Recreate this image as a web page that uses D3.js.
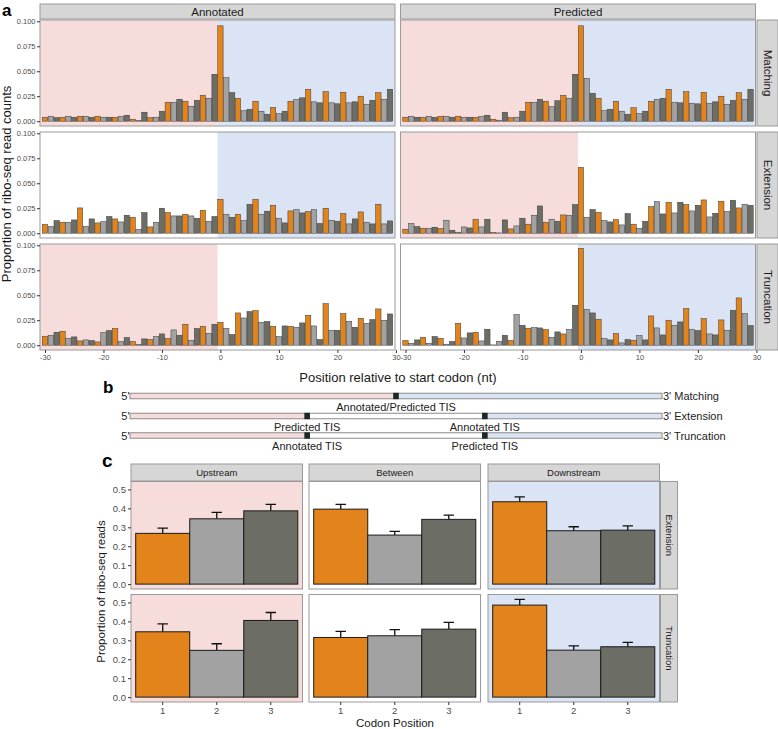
<!DOCTYPE html>
<html>
<head>
<meta charset="utf-8">
<script src="https://cdn.jsdelivr.net/npm/d3@7"></script>
<style>
  body { margin: 0; background: #fff; }
  svg { display: block; }
  text { font-family: "Liberation Sans", Arial, sans-serif; }
</style>
</head>
<body>
<div id="chart"></div>
<script>
// ---- panel a data: proportion of reads at each position (-30..29) ----
const positions = d3.range(-30, 30);
const colLabels = ["Annotated", "Predicted"];
const rowLabels = ["Matching", "Extension", "Truncation"];
const xTicksA = [-30, -20, -10, 0, 10, 20, 30];
const yTicksA = [0, 0.025, 0.05, 0.075, 0.1];

const matchingAnnotated = [
  0.004, 0.005, 0.0036, 0.004, 0.005, 0.004, 0.005, 0.005, 0.004, 0.005,
  0.004, 0.004, 0.004, 0.005, 0.006, 0.002, 0.0007, 0.009, 0.0035, 0.004,
  0.010, 0.019, 0.019, 0.022, 0.020, 0.015, 0.021, 0.026, 0.023, 0.047,
  0.0955, 0.0435, 0.0286, 0.023, 0.0105, 0.012, 0.020, 0.010, 0.007, 0.0138,
  0.0075, 0.010, 0.020, 0.0217, 0.0234, 0.032, 0.0194, 0.0184, 0.0296, 0.0184,
  0.0174, 0.029, 0.0184, 0.0194, 0.025, 0.017, 0.021, 0.0286, 0.022, 0.032
];
const matchingPredicted = [
  0.004, 0.005, 0.004, 0.004, 0.005, 0.004, 0.005, 0.005, 0.004, 0.005,
  0.004, 0.004, 0.004, 0.005, 0.006, 0.002, 0.001, 0.009, 0.0035, 0.004,
  0.010, 0.019, 0.019, 0.022, 0.020, 0.0145, 0.0205, 0.026, 0.023, 0.047,
  0.0955, 0.043, 0.028, 0.023, 0.0105, 0.012, 0.020, 0.010, 0.007, 0.0135,
  0.0075, 0.010, 0.020, 0.022, 0.023, 0.032, 0.019, 0.0184, 0.0296, 0.018,
  0.0174, 0.029, 0.018, 0.0194, 0.025, 0.017, 0.021, 0.0286, 0.022, 0.032
];
const extensionAnnotated = [
  0.009, 0.0067, 0.0127, 0.011, 0.011, 0.0133, 0.0253, 0.007, 0.0143, 0.0103,
  0.0117, 0.0167, 0.0143, 0.0113, 0.018, 0.016, 0.004, 0.0207, 0.0063, 0.011,
  0.025, 0.0207, 0.0173, 0.0173, 0.019, 0.0173, 0.015, 0.023, 0.012, 0.0167,
  0.034, 0.019, 0.016, 0.019, 0.0127, 0.029, 0.034, 0.019, 0.022, 0.028,
  0.015, 0.0103, 0.0223, 0.0237, 0.0203, 0.0217, 0.0237, 0.0097, 0.025, 0.013,
  0.012, 0.0197, 0.0093, 0.0143, 0.0213, 0.011, 0.0093, 0.029, 0.0093, 0.0123
];
const extensionPredicted = [
  0.004, 0.0097, 0.0067, 0.005, 0.005, 0.006, 0.0047, 0.013, 0.003, 0.001,
  0.0063, 0.0053, 0.014, 0.0063, 0.014, 0.0007, 0.0003, 0.0133, 0.0043, 0.0073,
  0.015, 0.009, 0.018, 0.0273, 0.011, 0.014, 0.012, 0.0183, 0.018, 0.0287,
  0.066, 0.016, 0.0237, 0.021, 0.0127, 0.0113, 0.0137, 0.0083, 0.0197, 0.009,
  0.005, 0.012, 0.0267, 0.0317, 0.0193, 0.031, 0.0203, 0.031, 0.0287, 0.0223,
  0.028, 0.0333, 0.0163, 0.020, 0.032, 0.0217, 0.033, 0.0253, 0.029, 0.028
];
const truncationAnnotated = [
  0.009, 0.010, 0.013, 0.014, 0.007, 0.0083, 0.0043, 0.0053, 0.0047, 0.0033,
  0.0127, 0.0147, 0.0167, 0.0037, 0.0077, 0.0037, 0.0007, 0.0063, 0.0057, 0.0087,
  0.0113, 0.0067, 0.0153, 0.010, 0.021, 0.005, 0.0167, 0.019, 0.012, 0.021,
  0.023, 0.017, 0.0107, 0.0323, 0.0273, 0.0337, 0.0347, 0.023, 0.0237, 0.019,
  0.0087, 0.0193, 0.019, 0.018, 0.0223, 0.030, 0.0193, 0.0057, 0.0417, 0.015,
  0.015, 0.0317, 0.024, 0.018, 0.027, 0.022, 0.0257, 0.0363, 0.025, 0.0313
];
const truncationPredicted = [
  0.0047, 0.002, 0.0053, 0.008, 0.002, 0.0087, 0.007, 0.001, 0.0037, 0.022,
  0.0073, 0.0123, 0.013, 0.0043, 0.016, 0.0003, 0.004, 0.010, 0.0047, 0.0307,
  0.020, 0.017, 0.0177, 0.0173, 0.0157, 0.008, 0.0133, 0.0113, 0.016, 0.040,
  0.097, 0.036, 0.0323, 0.026, 0.0067, 0.0053, 0.0117, 0.0023, 0.0057, 0.005,
  0.0097, 0.0053, 0.0293, 0.0173, 0.0103, 0.025, 0.020, 0.0233, 0.0367, 0.016,
  0.0147, 0.0267, 0.0113, 0.0103, 0.0253, 0.015, 0.035, 0.0473, 0.0317, 0.0197
];
// which panels get the upstream (pink) / downstream (blue) shading [row][col]
const upShade = [[true, true], [false, true], [true, false]];
const downShade = [[true, true], [true, false], [false, true]];

// ---- panel b: schematic, TIS at relative positions along the gene ----
const schemeRows = ["Matching", "Extension", "Truncation"];
const schemeTIS = [[0.5], [0.333, 0.667], [0.333, 0.667]];
const schemeTISLabels = [["Annotated/Predicted TIS"], ["Predicted TIS", "Annotated TIS"], ["Annotated TIS", "Predicted TIS"]];

// ---- panel c: mean proportion of reads by codon position ----
const regionLabels = ["Upstream", "Between", "Downstream"];
const codonPositions = ["1", "2", "3"];
const cRowLabels = ["Extension", "Truncation"];
const extensionMeans = [[0.268, 0.345, 0.387], [0.396, 0.259, 0.342], [0.435, 0.282, 0.285]];
const extensionUpper = [[0.296, 0.379, 0.421], [0.421, 0.279, 0.364], [0.461, 0.303, 0.308]];
const truncationMeans = [[0.345, 0.247, 0.405], [0.315, 0.324, 0.359], [0.486, 0.248, 0.266]];
const truncationUpper = [[0.387, 0.282, 0.447], [0.347, 0.356, 0.395], [0.516, 0.271, 0.289]];
const yTicksC = [0, 0.1, 0.2, 0.3, 0.4, 0.5];

const frameColors = ["#E2841B", "#A2A2A2", "#6C6D65"];
const pink = "#F7DCDC", blue = "#DAE4F4";
const stripFill = "#D6D6D6", borderCol = "#9a9a9a";

const svg = d3.select("#chart").append("svg")
  .attr("width", 778).attr("height", 729);

function styleAxis(g, size, col) {
  g.select(".domain").remove();
  g.selectAll(".tick line").attr("stroke", "#333");
  g.selectAll(".tick text").attr("fill", col).attr("font-size", size)
    .attr("font-family", "Liberation Sans, Arial, sans-serif");
}

// ================= panel a =================
const aColX = [40, 400.5], aW = 355, aRowY = [20, 132, 244], aH = 106;
const aData = [
  [matchingAnnotated, matchingPredicted],
  [extensionAnnotated, extensionPredicted],
  [truncationAnnotated, truncationPredicted]
];

rowLabels.forEach((rl, r) => {
  colLabels.forEach((cl, c) => {
    const x = d3.scaleLinear().domain([-30.85, 29.85]).range([aColX[c], aColX[c] + aW]);
    const y = d3.scaleLinear().domain([-0.0048, 0.1013]).range([aRowY[r] + aH, aRowY[r]]);
    const g = svg.append("g");

    g.append("rect").attr("x", aColX[c]).attr("y", aRowY[r])
      .attr("width", aW).attr("height", aH).attr("fill", "#fff");
    if (upShade[r][c]) {
      g.append("rect").attr("x", x(-30.85)).attr("y", aRowY[r])
        .attr("width", x(-0.5) - x(-30.85)).attr("height", aH).attr("fill", pink);
    }
    if (downShade[r][c]) {
      g.append("rect").attr("x", x(-0.5)).attr("y", aRowY[r])
        .attr("width", x(29.85) - x(-0.5)).attr("height", aH).attr("fill", blue);
    }

    g.selectAll(".bar").data(aData[r][c]).join("rect")
      .attr("class", "bar")
      .attr("x", (d, i) => x(positions[i] - 0.46))
      .attr("width", x(0.46) - x(-0.46))
      .attr("y", d => y(d))
      .attr("height", d => y(0) - y(d))
      .attr("fill", (d, i) => frameColors[((positions[i] % 3) + 3) % 3])
      .attr("stroke", "#3a3a3a").attr("stroke-width", 0.5);

    g.append("rect").attr("x", aColX[c]).attr("y", aRowY[r])
      .attr("width", aW).attr("height", aH)
      .attr("fill", "none").attr("stroke", borderCol).attr("stroke-width", 1);

    if (c === 0) {
      const ya = g.append("g").attr("transform", `translate(${aColX[c]},0)`)
        .call(d3.axisLeft(y).tickValues(yTicksA).tickFormat(d3.format(".3f")).tickSize(3).tickPadding(1.5));
      styleAxis(ya, 7.5, "#4d4d4d");
    }
    if (r === 2) {
      const xa = g.append("g").attr("transform", `translate(0,${aRowY[r] + aH})`)
        .call(d3.axisBottom(x).tickValues(xTicksA).tickFormat(d => String(d)).tickSize(3).tickPadding(2));
      styleAxis(xa, 7.5, "#4d4d4d");
    }
    if (r === 0) {
      g.append("rect").attr("x", aColX[c]).attr("y", 4).attr("width", aW).attr("height", 15)
        .attr("fill", stripFill).attr("stroke", borderCol).attr("stroke-width", 1);
      g.append("text").attr("x", aColX[c] + aW / 2).attr("y", 15.5)
        .attr("text-anchor", "middle").attr("font-size", 11.5).attr("fill", "#1a1a1a").text(cl);
    }
    if (c === 1) {
      g.append("rect").attr("x", 757).attr("y", aRowY[r]).attr("width", 21).attr("height", aH)
        .attr("fill", stripFill).attr("stroke", borderCol).attr("stroke-width", 1);
      g.append("text").attr("transform", `translate(763.5,${aRowY[r] + aH / 2}) rotate(90)`)
        .attr("text-anchor", "middle").attr("font-size", 11.5).attr("fill", "#1a1a1a").text(rl);
    }
  });
});

svg.append("text").attr("transform", "translate(10.5,184) rotate(-90)")
  .attr("text-anchor", "middle").attr("font-size", 13).attr("fill", "#1a1a1a")
  .text("Proportion of ribo-seq read counts");
svg.append("text").attr("x", 398).attr("y", 382)
  .attr("text-anchor", "middle").attr("font-size", 13).attr("fill", "#1a1a1a")
  .text("Position relative to start codon (nt)");
svg.append("text").attr("x", 2).attr("y", 16).attr("font-size", 17)
  .attr("font-weight", "bold").text("a");

// ================= panel b =================
const bx = d3.scaleLinear().domain([0, 1]).range([130, 662]);
const bRowY = [396, 416, 435.5], bH = 5.5;

schemeRows.forEach((name, r) => {
  const g = svg.append("g");
  const tis = schemeTIS[r];
  const cy = bRowY[r];
  const segs = [{ a: 0, b: tis[0], f: pink }];
  if (tis.length > 1) segs.push({ a: tis[0], b: tis[tis.length - 1], f: "#fff" });
  segs.push({ a: tis[tis.length - 1], b: 1, f: blue });

  g.selectAll(".seg").data(segs).join("rect")
    .attr("x", d => bx(d.a)).attr("width", d => bx(d.b) - bx(d.a))
    .attr("y", cy - bH / 2).attr("height", bH)
    .attr("fill", d => d.f);
  g.append("rect").attr("x", bx(0)).attr("width", bx(1) - bx(0))
    .attr("y", cy - bH / 2).attr("height", bH)
    .attr("fill", "none").attr("stroke", "#8c8c8c").attr("stroke-width", 1);

  g.selectAll(".tis").data(tis).join("rect")
    .attr("x", d => bx(d) - 2.8).attr("width", 5.6)
    .attr("y", cy - 3.2).attr("height", 6.4).attr("fill", "#1c2626");

  g.selectAll(".tisl").data(tis).join("text")
    .attr("x", d => bx(d)).attr("y", cy + 14.5)
    .attr("text-anchor", "middle").attr("font-size", 11).attr("fill", "#222")
    .text((d, i) => schemeTISLabels[r][i]);

  g.append("text").attr("x", bx(0) - 0.5).attr("y", cy + 4)
    .attr("text-anchor", "end").attr("font-size", 11).attr("fill", "#222").text("5'");
  g.append("text").attr("x", bx(1) + 1).attr("y", cy + 4)
    .attr("font-size", 11).attr("fill", "#222").text("3' " + name);
});
svg.append("text").attr("x", 103).attr("y", 393).attr("font-size", 17)
  .attr("font-weight", "bold").text("b");

// ================= panel c =================
const cColX = [131, 309, 488], cW = 171.5, cRowY = [481.5, 594.5], cH = 107.5;
const cMeans = [extensionMeans, truncationMeans];
const cUpper = [extensionUpper, truncationUpper];
const cShade = [pink, "#fff", blue];

cRowLabels.forEach((rl, r) => {
  regionLabels.forEach((reg, c) => {
    const x = d3.scaleBand().domain(codonPositions).range([cColX[c], cColX[c] + cW])
      .paddingInner(0).paddingOuter(0.087);
    const y = d3.scaleLinear().domain([-0.0258, 0.542]).range([cRowY[r] + cH, cRowY[r]]);
    const g = svg.append("g");
    const means = cMeans[r][c], upper = cUpper[r][c];

    g.append("rect").attr("x", cColX[c]).attr("y", cRowY[r]).attr("width", cW).attr("height", cH)
      .attr("fill", cShade[c]);

    // error bars (upper half, lower half sits behind the bar)
    g.selectAll(".err").data(codonPositions).join("path")
      .attr("d", (d, i) => {
        const cx = x(d) + x.bandwidth() / 2;
        return `M${cx},${y(means[i])}V${y(upper[i])}M${cx - 5.2},${y(upper[i])}H${cx + 5.2}`;
      })
      .attr("stroke", "#111").attr("stroke-width", 1.3).attr("fill", "none");

    g.selectAll(".cbar").data(codonPositions).join("rect")
      .attr("x", d => x(d)).attr("width", x.bandwidth())
      .attr("y", (d, i) => y(means[i])).attr("height", (d, i) => y(0) - y(means[i]))
      .attr("fill", (d, i) => frameColors[i])
      .attr("stroke", "#1a1a1a").attr("stroke-width", 1);

    g.append("rect").attr("x", cColX[c]).attr("y", cRowY[r]).attr("width", cW).attr("height", cH)
      .attr("fill", "none").attr("stroke", borderCol).attr("stroke-width", 1);

    if (c === 0) {
      const ya = g.append("g").attr("transform", `translate(${cColX[c]},0)`)
        .call(d3.axisLeft(y).tickValues(yTicksC).tickFormat(d3.format(".1f")).tickSize(3).tickPadding(2));
      styleAxis(ya, 9.5, "#4d4d4d");
    }
    if (r === 1) {
      const xa = g.append("g").attr("transform", `translate(0,${cRowY[r] + cH})`)
        .call(d3.axisBottom(x).tickSize(3).tickPadding(2));
      styleAxis(xa, 9.5, "#4d4d4d");
    }
    if (r === 0) {
      g.append("rect").attr("x", cColX[c]).attr("y", 464).attr("width", cW).attr("height", 17)
        .attr("fill", stripFill).attr("stroke", borderCol).attr("stroke-width", 1);
      g.append("text").attr("x", cColX[c] + cW / 2).attr("y", 476)
        .attr("text-anchor", "middle").attr("font-size", 9.5).attr("fill", "#1a1a1a").text(reg);
    }
    if (c === 2) {
      g.append("rect").attr("x", cColX[c] + cW + 1).attr("y", cRowY[r]).attr("width", 17).attr("height", cH)
        .attr("fill", stripFill).attr("stroke", borderCol).attr("stroke-width", 1);
      g.append("text").attr("transform", `translate(${cColX[c] + cW + 6.5},${cRowY[r] + cH / 2}) rotate(90)`)
        .attr("text-anchor", "middle").attr("font-size", 9.5).attr("fill", "#1a1a1a").text(rl);
    }
  });
});

svg.append("text").attr("transform", "translate(105,591.5) rotate(-90)")
  .attr("text-anchor", "middle").attr("font-size", 11.5).attr("fill", "#1a1a1a")
  .text("Proportion of ribo-seq reads");
svg.append("text").attr("x", 395).attr("y", 726.5)
  .attr("text-anchor", "middle").attr("font-size", 11.5).attr("fill", "#1a1a1a")
  .text("Codon Position");
svg.append("text").attr("x", 102).attr("y", 467).attr("font-size", 19)
  .attr("font-weight", "bold").text("c");
</script>
</body>
</html>
